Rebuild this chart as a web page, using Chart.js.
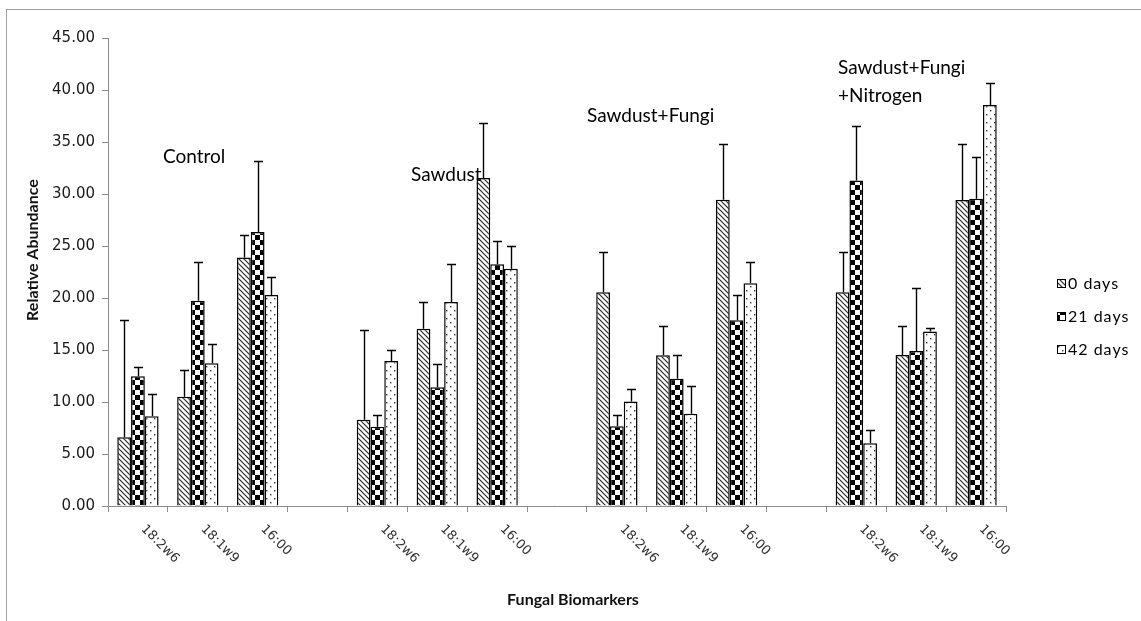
<!DOCTYPE html>
<html><head><meta charset="utf-8">
<script src="https://cdn.jsdelivr.net/npm/chart.js@4/dist/chart.umd.min.js"></script>
<style>html,body{margin:0;padding:0;background:#fff;}canvas{display:block;}</style>
</head><body>
<canvas id="c" width="1141" height="621"></canvas>
<script>
// ---- data ----
const categories = ['18:2w6','18:1w9','16:00','', '18:2w6','18:1w9','16:00','', '18:2w6','18:1w9','16:00','', '18:2w6','18:1w9','16:00'];
const seriesNames = ['0 days','21 days','42 days'];
const day0  = [6.6, 10.5, 23.9, null, 8.3, 17.05, 31.54, null, 20.55, 14.49, 29.45, null, 20.55, 14.52, 29.42];
const day21 = [12.47, 19.74, 26.35, null, 7.63, 11.41, 23.24, null, 7.66, 12.24, 17.85, null, 31.31, 14.9, 29.55];
const day42 = [8.62, 13.72, 20.29, null, 13.94, 19.62, 22.82, null, 10.06, 8.88, 21.41, null, 6.03, 16.79, 38.56];
const err0  = [11.25, 2.55, 2.13, null, 8.62, 2.57, 5.26, null, 3.91, 2.82, 5.36, null, 3.87, 2.82, 5.35];
const err21 = [0.93, 3.72, 6.85, null, 1.12, 2.28, 2.27, null, 1.09, 2.25, 2.44, null, 5.23, 6.03, 4.04];
const err42 = [2.12, 1.89, 1.76, null, 1.09, 3.65, 2.15, null, 1.22, 2.69, 2.08, null, 1.28, 0.29, 2.14];
const groupLabels = [['Control'], ['Sawdust'], ['Sawdust+Fungi'], ['Sawdust+Fungi', '+Nitrogen']];
const yTicks = [0, 5, 10, 15, 20, 25, 30, 35, 40, 45];

// ---- patterns ----
const canvas = document.getElementById('c');
const ctx = canvas.getContext('2d');
function mk(w, h, draw){ const c = document.createElement('canvas'); c.width = w; c.height = h; const g = c.getContext('2d'); g.fillStyle = '#fff'; g.fillRect(0,0,w,h); draw(g); return ctx.createPattern(c, 'repeat'); }
const hatch = mk(5,5,g=>{ g.strokeStyle='#2a2a2a'; g.lineWidth=1.2; g.beginPath(); g.moveTo(-1,-1); g.lineTo(6,6); g.moveTo(-1,4); g.lineTo(1,6); g.moveTo(4,-1); g.lineTo(6,1); g.stroke(); });
const checker = mk(10,10,g=>{ g.fillStyle='#000'; g.fillRect(0,0,5,5); g.fillRect(5,5,5,5); });
const dots = mk(8,8,g=>{ g.fillStyle='#333'; g.fillRect(2,2,1.4,1.4); g.fillRect(6,6,1.4,1.4); });
const fills = [hatch, checker, dots];
const errs = [err0, err21, err42];

const FONT = 'Lato, "Open Sans", sans-serif';

const decor = {
  id: 'decor',
  beforeDraw(chart){
    const c = chart.ctx; c.save();
    c.fillStyle = '#fff'; c.fillRect(0,0,chart.width,chart.height);
    c.strokeStyle = '#a0a0a0'; c.lineWidth = 1; c.strokeRect(6.5, 9.5, chart.width, chart.height);
    c.restore();
  },
  afterDatasetsDraw(chart){
    const c = chart.ctx; const y = chart.scales.y;
    c.save(); c.strokeStyle = '#000'; c.lineWidth = 1.4;
    chart.data.datasets.forEach((ds, di) => {
      const meta = chart.getDatasetMeta(di);
      meta.data.forEach((bar, i) => {
        const v = ds.data[i]; const e = errs[di][i];
        if (v == null || e == null) return;
        const x = Math.round(bar.x) + 0.5;
        const y0 = y.getPixelForValue(v), y1 = Math.round(y.getPixelForValue(v + e)) + 0.5;
        c.beginPath(); c.moveTo(x, y0); c.lineTo(x, y1); c.moveTo(x - 4.5, y1); c.lineTo(x + 4.5, y1); c.stroke();
      });
    });
    c.restore();
  },
  afterDraw(chart){
    const c = chart.ctx; const xs = chart.scales.x; const ys = chart.scales.y;
    c.save();
    // x tick labels rotated 45deg clockwise
    c.font = '13px "DejaVu Sans", sans-serif'; c.fillStyle = '#333'; c.textAlign = 'left'; c.textBaseline = 'middle';
    xs.ticks.forEach((t, i) => {
      const lab = categories[i]; if (!lab) return;
      const px = xs.getPixelForTick(i);
      c.save(); c.translate(px + 5, ys.bottom + 21); c.rotate(Math.PI / 4); c.fillText(lab, 0, 0); c.restore();
    });
    // axis titles
    c.fillStyle = '#111'; c.font = 'bold 16px ' + FONT; c.textAlign = 'center';
    c.fillText('Fungal Biomarkers', 573, 600);
    c.save(); c.translate(33, 250); c.rotate(-Math.PI / 2); c.fillText('Relative Abundance', 0, 0); c.restore();
    // group labels
    c.font = '19px ' + FONT; c.textAlign = 'left'; c.fillStyle = '#000';
    const gpos = [[163, 157], [411, 175], [587, 116], [838, 68]];
    groupLabels.forEach((lines, gi) => {
      lines.forEach((s, li) => c.fillText(s, gpos[gi][0], gpos[gi][1] + li * 28));
    });
    // legend
    c.font = '16px ' + FONT; c.textBaseline = 'middle';
    try { c.letterSpacing = '1px'; } catch(e) {}
    seriesNames.forEach((n, i) => {
      const ly = 283 + i * 33;
      c.fillStyle = fills[i]; c.fillRect(1057, ly - 4, 8, 8);
      c.strokeStyle = '#000'; c.lineWidth = 1; c.strokeRect(1057.5, ly - 3.5, 8, 8);
      c.fillStyle = '#000'; c.fillText(n, 1068, ly + 1);
    });
    c.restore();
  }
};

new Chart(ctx, {
  type: 'bar',
  data: {
    labels: categories,
    datasets: seriesNames.map((n, i) => ({
      label: n,
      data: [day0, day21, day42][i],
      backgroundColor: fills[i],
      borderColor: '#000',
      borderWidth: 1.5,
      categoryPercentage: 0.69,
      barPercentage: 1.0
    }))
  },
  options: {
    responsive: false,
    animation: false,
    devicePixelRatio: 1,
    layout: { padding: { top: 38, right: 135, left: 0, bottom: 0 } },
    plugins: { legend: { display: false }, tooltip: { enabled: false } },
    scales: {
      x: {
        offset: true,
        grid: { display: true, drawOnChartArea: false, drawTicks: true, tickLength: 6, color: '#8c8c8c', offset: true },
        border: { display: true, color: '#8c8c8c', width: 1 },
        ticks: { display: false },
        afterFit(s){ s.height = 115; }
      },
      y: {
        min: 0, max: 45,
        afterBuildTicks(s){ s.ticks = yTicks.map(v => ({ value: v })); },
        grid: { display: true, drawOnChartArea: false, drawTicks: true, tickLength: 6, color: '#8c8c8c' },
        border: { display: true, color: '#8c8c8c', width: 1 },
        ticks: { color: '#1a1a1a', font: { family: '"DejaVu Sans", sans-serif', size: 15 }, padding: 7, callback: v => Number(v).toFixed(2) },
        afterFit(s){ s.width = 108; }
      }
    }
  },
  plugins: [decor]
});
</script>
</body></html>
